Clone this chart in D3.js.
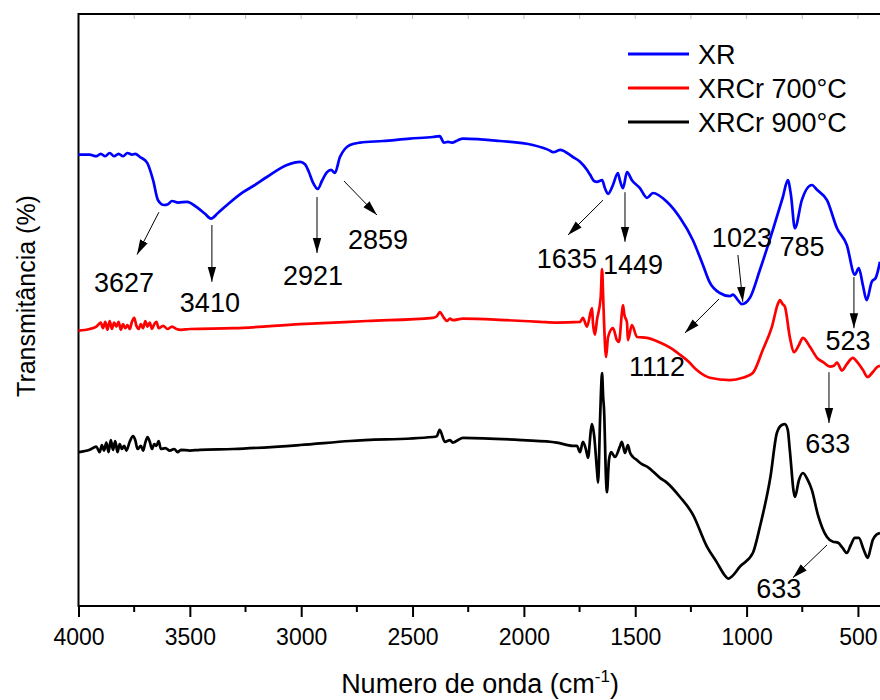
<!DOCTYPE html>
<html><head><meta charset="utf-8">
<script src="https://cdn.jsdelivr.net/npm/d3@7"></script>
<style>body{margin:0;background:#fff}svg{display:block}</style>
</head><body><svg id="c" width="880" height="700"></svg>
<script>
// ---- Data (wavenumber cm^-1, transmittance in arbitrary stacked units) ----
const seriesNames = ["XR", "XRCr 700°C", "XRCr 900°C"];

const xrSpectrum = [[4000,56.3],[3950,56.3],[3920,56.1],[3900,56.4],[3880,56.1],[3860,56.5],[3840,56.1],[3820,56.4],[3800,56.1],[3780,56.5],[3760,56.3],[3745,56.4],[3724,56.0],[3692,55.3],[3665,53.1],[3643,50.6],[3616,50.0],[3598,50.1],[3580,50.5],[3553,50.3],[3513,50.4],[3463,49.6],[3432,48.9],[3405,48.3],[3374,49.0],[3333,50.0],[3261,51.6],[3208,52.5],[3154,53.5],[3064,55.0],[3005,55.4],[2983,55.1],[2965,54.1],[2947,52.8],[2925,52.0],[2907,53.0],[2884,54.1],[2866,54.4],[2849,54.0],[2826,56.0],[2804,57.0],[2781,57.5],[2736,57.8],[2633,58.0],[2512,58.3],[2409,58.5],[2378,58.6],[2359,57.8],[2341,57.9],[2323,57.8],[2296,58.1],[2274,58.3],[2108,58.0],[1960,57.5],[1883,56.8],[1869,56.6],[1847,56.8],[1838,56.9],[1780,56.0],[1748,55.4],[1717,54.4],[1703,53.8],[1685,53.0],[1672,52.9],[1649,53.1],[1636,52.1],[1622,51.4],[1600,52.5],[1578,54.0],[1569,53.1],[1555,52.1],[1537,54.1],[1515,53.1],[1479,52.1],[1447,50.9],[1420,51.5],[1358,50.4],[1299,48.4],[1241,45.6],[1196,42.5],[1165,40.3],[1120,39.0],[1075,38.6],[1061,38.8],[1039,38.1],[1021,37.6],[985,38.4],[940,41.9],[882,46.9],[837,51.0],[815,53.1],[801,51.3],[783,47.1],[752,50.6],[707,52.5],[684,51.9],[639,50.6],[594,47.1],[550,45.0],[514,41.3],[496,42.1],[478,40.0],[461,38.1],[438,40.4],[420,40.9],[401,42.9]];

const xrcr700Spectrum = [[4000,34.3],[3950,34.5],[3920,34.8],[3900,35.3],[3890,34.6],[3880,35.4],[3870,34.4],[3860,35.5],[3850,34.5],[3840,35.3],[3830,34.8],[3820,35.4],[3810,34.4],[3800,35.1],[3790,34.6],[3780,35.0],[3770,34.5],[3760,35.4],[3750,35.9],[3740,34.9],[3730,34.5],[3720,35.1],[3710,34.6],[3700,35.5],[3690,34.8],[3680,35.3],[3670,34.5],[3660,35.1],[3650,35.4],[3640,34.6],[3620,34.9],[3600,34.5],[3580,34.8],[3560,34.5],[3540,34.4],[3500,34.5],[3305,34.6],[3005,35.1],[2705,35.5],[2409,35.9],[2391,36.1],[2378,36.6],[2359,35.9],[2346,35.5],[2332,35.8],[2319,35.6],[2274,35.8],[2077,35.6],[1928,35.4],[1852,35.3],[1748,35.4],[1735,35.9],[1717,34.8],[1694,37.1],[1690,35.3],[1681,33.8],[1672,35.6],[1655,38.5],[1649,42.0],[1644,38.5],[1640,35.3],[1631,31.0],[1622,33.5],[1600,34.6],[1582,33.1],[1573,32.9],[1560,36.5],[1555,37.5],[1549,36.3],[1537,35.3],[1533,33.1],[1515,35.0],[1492,33.5],[1447,33.4],[1389,32.8],[1340,32.1],[1300,31.3],[1260,30.4],[1225,29.4],[1190,28.7],[1165,28.4],[1075,28.1],[1017,28.4],[972,29.0],[927,31.9],[886,34.8],[860,37.6],[850,38.1],[838,37.6],[828,37.3],[806,33.5],[788,31.6],[765,32.5],[747,33.4],[716,32.3],[684,30.9],[653,30.3],[626,29.8],[608,29.9],[594,30.3],[572,29.3],[550,30.1],[523,30.9],[501,30.3],[478,29.4],[456,28.5],[434,29.1],[411,29.8],[401,29.9]];

const xrcr900Spectrum = [[4000,19.1],[3950,19.4],[3920,19.8],[3905,19.1],[3895,20.0],[3885,19.3],[3875,20.3],[3865,19.1],[3855,20.6],[3845,19.4],[3835,20.5],[3825,19.1],[3815,20.1],[3805,19.5],[3795,19.9],[3785,19.3],[3770,20.4],[3755,21.1],[3745,20.6],[3735,19.5],[3720,19.9],[3710,19.3],[3700,20.3],[3690,21.0],[3680,20.4],[3670,19.5],[3660,20.1],[3650,19.9],[3640,20.5],[3630,19.5],[3610,19.6],[3590,19.3],[3570,19.5],[3555,19.1],[3540,19.4],[3500,19.3],[3455,19.4],[3306,19.5],[3005,20.0],[2781,20.5],[2409,21.0],[2391,21.1],[2378,21.9],[2355,20.4],[2332,20.6],[2319,20.3],[2274,20.9],[2005,20.6],[1852,20.3],[1780,19.9],[1762,19.9],[1748,19.1],[1735,20.4],[1721,19.4],[1712,18.4],[1699,21.9],[1694,22.6],[1685,21.3],[1672,16.9],[1667,15.3],[1658,23.1],[1654,26.5],[1649,29.0],[1644,26.0],[1640,24.4],[1631,15.6],[1627,14.1],[1618,18.1],[1608,19.1],[1591,18.5],[1569,19.8],[1560,20.4],[1546,19.0],[1533,20.0],[1524,19.1],[1510,18.5],[1492,18.1],[1470,17.6],[1447,17.3],[1389,15.9],[1358,15.3],[1299,13.5],[1241,11.3],[1178,7.3],[1133,5.3],[1095,3.6],[1083,3.3],[1065,3.6],[1030,4.8],[972,6.5],[940,9.8],[893,16.0],[864,21.5],[842,22.5],[828,22.6],[815,21.9],[806,19.4],[783,13.5],[765,15.6],[747,16.5],[725,15.6],[707,14.4],[680,11.3],[639,8.5],[612,7.9],[590,7.8],[568,7.1],[550,6.5],[532,7.5],[514,8.4],[496,8.4],[474,6.9],[456,5.9],[443,7.1],[434,8.1],[416,8.8],[401,9.0]];

const xTickValues = [4000, 3500, 3000, 2500, 2000, 1500, 1000, 500];
const xMinorTickValues = [3750, 3250, 2750, 2250, 1750, 1250, 750];

// peak annotations: arrow from -> to, label at (data coordinates)
const annotationLabels = ["3627", "3410", "2921", "2859", "1635", "1449", "1023", "785", "523", "1112", "633", "633"];
const annotationArrows = [
  [[3639,49.1],[3737,43.8]], [[3401,47.5],[3401,40.4]], [[2929,51.0],[2929,44.0]], [[2808,53.0],[2660,48.75]],
  [[1645,50.6],[1802,46.25]], [[1546,51.6],[1546,45.4]], [[1039,43.75],[1017,37.9]], null,
  [[518,41.0],[518,34.6]], [[1124,38.25],[1277,34.0]], [[630,29.1],[630,22.75]], [[639,7.5],[792,3.4]]
];
const annotationAnchors = [[3796,39.1],[3410,36.6],[2947,40.0],[2655,44.5],[1807,42.1],[1510,41.4],[1021,44.75],[751,43.6],[545,31.9],[1402,28.6],[635,19.0],[855,0.9]];

// ---- Styles ----
const colors = ["#0000ff", "#ff0000", "#000000"];
const font = "'Liberation Sans', Arial, Helvetica, sans-serif";

const svg = d3.select("#c");
const x = d3.scaleLinear().domain([4000, 400]).range([78.5, 880.2]);
const y = d3.scaleLinear().domain([0, 74]).range([605, 13]);

const defs = svg.append("defs");
defs.append("marker").attr("id", "ah").attr("markerUnits", "userSpaceOnUse")
  .attr("viewBox", "0 -5 15 10").attr("refX", 15).attr("refY", 0)
  .attr("markerWidth", 15).attr("markerHeight", 10).attr("orient", "auto")
  .append("path").attr("d", "M0,-4.2L15,0L0,4.2Z").attr("fill", "#000");

// frame: top line and left line
svg.append("line").attr("x1", 78).attr("x2", 880).attr("y1", 14).attr("y2", 14)
  .attr("stroke", "#000").attr("stroke-width", 2);
svg.append("g").selectAll("line").data(xTickValues.concat(xMinorTickValues)).join("line")
  .attr("x1", d => x(d)).attr("x2", d => x(d)).attr("y1", 15).attr("y2", 19)
  .attr("stroke", "#bbb").attr("stroke-width", 1);
svg.append("line").attr("x1", 78.5).attr("x2", 78.5).attr("y1", 13).attr("y2", 607)
  .attr("stroke", "#000").attr("stroke-width", 2);

// spectra
const line = d3.line().x(d => x(d[0])).y(d => y(d[1])).curve(d3.curveMonotoneX);
[xrSpectrum, xrcr700Spectrum, xrcr900Spectrum].forEach((s, i) => {
  const sorted = s.slice().sort((a, b) => a[0] - b[0]);
  svg.append("path").datum(sorted).attr("d", line).attr("fill", "none")
    .attr("stroke", colors[i]).attr("stroke-width", 2.7).attr("stroke-linejoin", "round");
});

// bottom axis
const axisY = 606;
const gx = svg.append("g").attr("transform", `translate(0,${axisY})`)
  .call(d3.axisBottom(x).tickValues(xTickValues).tickSize(11).tickSizeOuter(0).tickFormat(d3.format("d")));
gx.select(".domain").attr("stroke-width", 2).attr("d", "M78,0H880");
gx.selectAll(".tick line").attr("stroke-width", 2);
gx.selectAll(".tick text").attr("font-family", font).attr("font-size", 23).attr("fill", "#000")
  .attr("y", 39).attr("dy", 0);
svg.append("g").attr("transform", `translate(0,${axisY})`).selectAll("line").data(xMinorTickValues).join("line")
  .attr("x1", d => x(d)).attr("x2", d => x(d)).attr("y1", 0).attr("y2", 6)
  .attr("stroke", "#000").attr("stroke-width", 2);

// axis titles
const xt = svg.append("text").attr("x", 480).attr("y", 693).attr("text-anchor", "middle")
  .attr("font-family", font).attr("font-size", 27).attr("fill", "#000");
xt.append("tspan").text("Numero de onda (cm");
xt.append("tspan").attr("font-size", 17).attr("dy", -11).text("-1");
xt.append("tspan").attr("dy", 11).text(")");

svg.append("text").attr("transform", "translate(35,296) rotate(-90)").attr("text-anchor", "middle")
  .attr("font-family", font).attr("font-size", 25).attr("fill", "#000").text("Transmitância (%)");

// annotations
const ann = svg.append("g");
annotationArrows.forEach((a, i) => {
  if (a) {
    ann.append("line").attr("x1", x(a[0][0])).attr("y1", y(a[0][1]))
      .attr("x2", x(a[1][0])).attr("y2", y(a[1][1]))
      .attr("stroke", "#000").attr("stroke-width", 1).attr("marker-end", "url(#ah)");
  }
});
annotationLabels.forEach((t, i) => {
  ann.append("text").attr("x", x(annotationAnchors[i][0])).attr("y", y(annotationAnchors[i][1]))
    .attr("text-anchor", "middle").attr("font-family", font).attr("font-size", 27)
    .attr("fill", "#000").text(t);
});

// legend
const lg = svg.append("g");
seriesNames.forEach((n, i) => {
  const yy = 54 + i * 34;
  lg.append("line").attr("x1", 628).attr("x2", 689).attr("y1", yy).attr("y2", yy)
    .attr("stroke", colors[i]).attr("stroke-width", 3);
  lg.append("text").attr("x", 698).attr("y", yy + 9.5).attr("font-family", font)
    .attr("font-size", 27).attr("fill", "#000").text(n);
});
</script></body></html>
